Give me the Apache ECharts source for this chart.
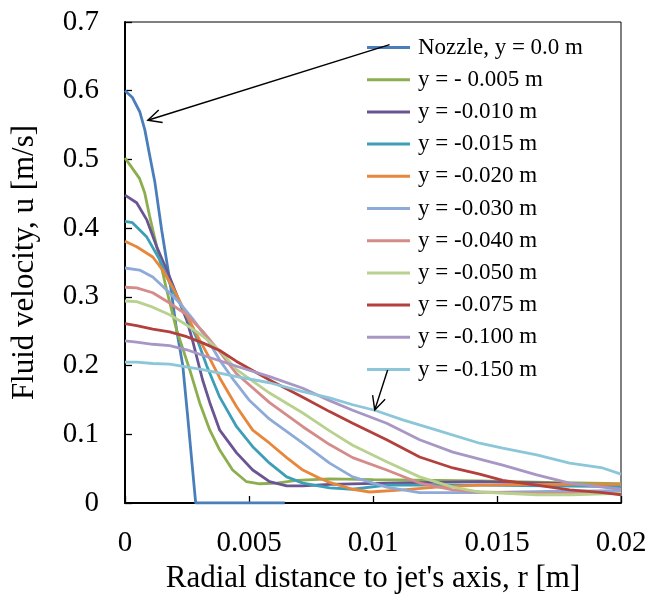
<!DOCTYPE html>
<html>
<head>
<meta charset="utf-8">
<script src="https://cdn.jsdelivr.net/npm/echarts@6/dist/echarts.min.js"></script>
<style>
html,body{margin:0;padding:0;background:#fff;}
#c{width:651px;height:601px;}
</style>
</head>
<body>
<div id="c"></div>
<script>
// ---- Data (r in m, u in m/s) ----
const seriesNames = ['Nozzle, y = 0.0 m','y = - 0.005 m','y = -0.010 m','y = -0.015 m','y = -0.020 m','y = -0.030 m','y = -0.040 m','y = -0.050 m','y = -0.075 m','y = -0.100 m','y = -0.150 m'];
const seriesColors = ['#4a7ebb','#8cae4f','#6b5494','#3d9fb7','#e8873c','#8eaad8','#d48b8a','#b8d18f','#b3403c','#a897c5','#8cc6d9'];

const nozzle = [[0,0.6],[0.0003,0.59],[0.0006,0.569],[0.0008,0.543],[0.001,0.505],[0.0012,0.468],[0.00148,0.397],[0.0018,0.325],[0.00208,0.252],[0.00233,0.2],[0.00253,0.125],[0.00285,0],[0.00644,0]];
const y005 = [[0,0.502],[0.0002,0.492],[0.00059,0.472],[0.00079,0.452],[0.00099,0.418],[0.00128,0.373],[0.00168,0.31],[0.00208,0.252],[0.00261,0.194],[0.00301,0.146],[0.00342,0.106],[0.00382,0.077],[0.00434,0.048],[0.0049,0.031],[0.00543,0.028],[0.00612,0.029],[0.00692,0.033],[0.00825,0.035],[0.01,0.034],[0.0143,0.032],[0.017,0.03],[0.02,0.028]];
const y010 = [[0,0.448],[0.00047,0.437],[0.00088,0.412],[0.00128,0.373],[0.0018,0.329],[0.00249,0.266],[0.0027,0.24],[0.00313,0.179],[0.00342,0.146],[0.00382,0.106],[0.0045,0.073],[0.00515,0.048],[0.00583,0.031],[0.00652,0.025],[0.00717,0.025],[0.00825,0.027],[0.01055,0.029],[0.0143,0.031],[0.017,0.029],[0.02,0.025]];
const y015 = [[0,0.41],[0.0003,0.408],[0.00088,0.387],[0.0014,0.354],[0.00192,0.31],[0.00249,0.272],[0.00289,0.24],[0.00329,0.2],[0.00382,0.154],[0.0045,0.111],[0.00515,0.082],[0.00583,0.058],[0.00652,0.038],[0.00717,0.029],[0.00825,0.022],[0.00918,0.02],[0.01055,0.026],[0.0143,0.026],[0.017,0.025],[0.02,0.024]];
const y020 = [[0,0.381],[0.00047,0.373],[0.00112,0.358],[0.00152,0.339],[0.00192,0.314],[0.00233,0.285],[0.00289,0.245],[0.00342,0.21],[0.00382,0.182],[0.0045,0.14],[0.00515,0.106],[0.00583,0.087],[0.00652,0.066],[0.00717,0.048],[0.00785,0.036],[0.00825,0.03],[0.00918,0.02],[0.00987,0.016],[0.0112,0.019],[0.01257,0.023],[0.0143,0.026],[0.017,0.027],[0.02,0.027]];
const y030 = [[0,0.342],[0.00059,0.339],[0.00112,0.329],[0.00168,0.31],[0.00221,0.291],[0.00273,0.268],[0.00329,0.24],[0.00382,0.208],[0.0044,0.178],[0.005,0.15],[0.00583,0.122],[0.00717,0.087],[0.00825,0.058],[0.00918,0.038],[0.01055,0.023],[0.01188,0.015],[0.0143,0.015],[0.017,0.017],[0.02,0.018]];
const y040 = [[0,0.314],[0.00047,0.313],[0.00112,0.306],[0.0018,0.291],[0.00249,0.274],[0.00313,0.25],[0.00382,0.22],[0.0045,0.188],[0.00583,0.146],[0.00717,0.111],[0.00825,0.085],[0.00918,0.066],[0.01055,0.048],[0.01188,0.029],[0.01322,0.019],[0.0143,0.016],[0.0166,0.014],[0.02,0.014]];
const y050 = [[0,0.294],[0.00047,0.293],[0.00112,0.285],[0.0018,0.274],[0.00249,0.259],[0.00313,0.243],[0.00382,0.222],[0.0045,0.194],[0.00583,0.16],[0.00717,0.131],[0.00825,0.105],[0.00918,0.084],[0.01055,0.06],[0.01188,0.038],[0.01322,0.023],[0.0143,0.016],[0.0166,0.012],[0.018,0.012],[0.02,0.014]];
const y075 = [[0,0.261],[0.00047,0.258],[0.00112,0.253],[0.0018,0.249],[0.00249,0.242],[0.00313,0.233],[0.00382,0.222],[0.0045,0.206],[0.00583,0.179],[0.00717,0.154],[0.00825,0.133],[0.00918,0.116],[0.01055,0.092],[0.01188,0.067],[0.01322,0.051],[0.0143,0.042],[0.01523,0.033],[0.0166,0.026],[0.01793,0.019],[0.01926,0.015],[0.02,0.012]];
const y100 = [[0,0.236],[0.00047,0.234],[0.00112,0.231],[0.0018,0.229],[0.00249,0.223],[0.00313,0.215],[0.00382,0.207],[0.0045,0.199],[0.00583,0.184],[0.00717,0.167],[0.00825,0.149],[0.00918,0.135],[0.01055,0.116],[0.01188,0.092],[0.01322,0.074],[0.0143,0.064],[0.01523,0.055],[0.0166,0.041],[0.01793,0.029],[0.01926,0.023],[0.02,0.02]];
const y150 = [[0,0.205],[0.00047,0.205],[0.00112,0.203],[0.0018,0.202],[0.00313,0.194],[0.0045,0.184],[0.00583,0.175],[0.00717,0.162],[0.00825,0.153],[0.00918,0.143],[0.01007,0.135],[0.0112,0.121],[0.01257,0.106],[0.0143,0.087],[0.01523,0.08],[0.0166,0.07],[0.01793,0.058],[0.01926,0.051],[0.02,0.042]];

const xTickLabels = ['0','0.005','0.01','0.015','0.02'];
const yTickLabels = ['0','0.1','0.2','0.3','0.4','0.5','0.6','0.7'];
const xAxisTitle = "Radial distance to jet's axis, r [m]";
const yAxisTitle = 'Fluid velocity, u [m/s]';

// annotation arrows (data coords): from legend sample to curve
const arrowFrom = [[0.01067,0.667],[0.01059,0.1936]];
const arrowTo = [[0.00092,0.557],[0.01007,0.1354]];

const allData = [nozzle,y005,y010,y015,y020,y030,y040,y050,y075,y100,y150];
const FONT = '"Liberation Serif","Times New Roman",serif';

const chart = echarts.init(document.getElementById('c'), null, {renderer:'canvas'});
const option = {
  backgroundColor:'#ffffff',
  animation:false,
  grid:{left:125, top:22, right:30, bottom:98, show:true, borderColor:'#000', borderWidth:1, backgroundColor:'transparent'},
  xAxis:{
    type:'value', min:0, max:0.02, interval:0.005,
    name:xAxisTitle, nameLocation:'middle', nameGap:60,
    nameTextStyle:{fontFamily:FONT, fontSize:31, color:'#000'},
    axisLine:{show:true, onZero:false, lineStyle:{color:'#000', width:2}},
    axisTick:{show:true, inside:true, length:7, lineStyle:{color:'#000', width:1.3}},
    axisLabel:{margin:26, fontFamily:FONT, fontSize:29, color:'#000',
      formatter:function(v){ const i=Math.round(v/0.005); return xTickLabels[i]; }},
    splitLine:{show:false}
  },
  yAxis:{
    type:'value', min:0, max:0.7, interval:0.1,
    name:yAxisTitle, nameLocation:'middle', nameGap:85,
    nameTextStyle:{fontFamily:FONT, fontSize:31, color:'#000'},
    axisLine:{show:true, onZero:false, lineStyle:{color:'#000', width:2}},
    axisTick:{show:true, inside:true, length:7, lineStyle:{color:'#000', width:1.3}},
    axisLabel:{margin:26, fontFamily:FONT, fontSize:29, color:'#000',
      formatter:function(v){ const i=Math.round(v/0.1); return yTickLabels[i]; }},
    splitLine:{show:false}
  },
  legend:{
    orient:'vertical', left:367, top:36, padding:0,
    itemWidth:43, itemHeight:3, itemGap:9.2, icon:'rect',
    textStyle:{fontFamily:FONT, fontSize:23, color:'#000', lineHeight:22, padding:[0,0,0,3]},
    data:seriesNames
  },
  series: allData.map(function(d,i){
    return {
      name:seriesNames[i], type:'line', data:d, showSymbol:false, symbol:'none',
      smooth:false, color:seriesColors[i],
      lineStyle:{width:2.8, color:seriesColors[i]},
      itemStyle:{color:seriesColors[i]},
      emphasis:{disabled:true}
    };
  })
};
chart.setOption(option);

function buildArrows(){
  const els = [];
  for (let k=0;k<arrowFrom.length;k++){
    const p0 = chart.convertToPixel({gridIndex:0}, arrowFrom[k]);
    const p1 = chart.convertToPixel({gridIndex:0}, arrowTo[k]);
    const dx = p1[0]-p0[0], dy = p1[1]-p0[1];
    const len = Math.sqrt(dx*dx+dy*dy);
    const ux = dx/len, uy = dy/len;
    const L = 15, a = 26*Math.PI/180;
    const h1 = [p1[0] - L*(ux*Math.cos(a) - uy*Math.sin(a)), p1[1] - L*(uy*Math.cos(a) + ux*Math.sin(a))];
    const h2 = [p1[0] - L*(ux*Math.cos(a) + uy*Math.sin(a)), p1[1] - L*(uy*Math.cos(a) - ux*Math.sin(a))];
    const st = {stroke:'#000', lineWidth:1.4, fill:null};
    els.push({type:'line', z:100, shape:{x1:p0[0],y1:p0[1],x2:p1[0],y2:p1[1]}, style:st});
    els.push({type:'polyline', z:100, shape:{points:[h1,p1,h2]}, style:st});
  }
  chart.setOption({graphic:els});
}
buildArrows();
</script>
</body>
</html>
